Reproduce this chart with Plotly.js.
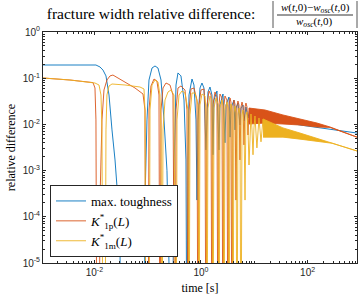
<!DOCTYPE html>
<html><head><meta charset="utf-8">
<script src="https://cdn.plot.ly/plotly-3.0.1.min.js"></script>
<style>html,body{margin:0;padding:0;background:#fff}#chart{width:360px;height:302px}</style>
</head><body><div id="chart"></div>
<script>
// ---- data ----
const blueT = [0.00109,0.0107,0.01274,0.0145,0.0165,0.0188,0.0214,0.0244,0.0277,0.0302,0.0315,0.0853,0.0890,0.0970,0.1058,0.1205,0.1371,0.156,0.178,0.2023,0.230,0.2857,0.311,0.325,0.340,0.370,0.421,0.480,0.523,0.546,0.570,0.596,0.678,0.739,0.806,0.841,0.879,0.958,1.044,1.138,1.241,1.353,1.475,1.608,1.679,1.753,1.995,2.176,2.272,2.587,2.818,2.944,3.35,3.50,3.65,4.16,4.35,4.54,4.94,5.39,5.63,6.14,6.41,6.98,7.62,8.30,9.06,9.87,10.76,12.8,15.9,19.7,30.4,72.0,171,405,845];
const blueV = [0.193,0.193,0.175,0.150,0.112,0.0433,0.0076,0.0017,0.00023,3.1e-5,1e-8,1e-8,0.00023,0.0125,0.0914,0.166,0.184,0.166,0.0914,0.0125,0.0010,1e-8,0.001,0.0205,0.0713,0.130,0.112,0.0337,0.0017,1e-8,0.0017,0.0433,0.096,0.0713,0.0125,0.00023,0.0125,0.0614,0.0787,0.0614,0.0028,0.0503,0.0645,0.0433,0.0022,0.0337,0.0528,0.0028,0.0263,0.0455,0.0040,0.0263,0.0392,0.0053,0.0226,0.0337,0.0076,0.0226,0.029,0.0097,0.0226,0.0263,0.0119,0.0238,0.0138,0.0226,0.0145,0.0205,0.0152,0.0177,0.0145,0.0138,0.0119,0.0097,0.0084,0.0072,0.0065];

const redT = [0.00109,0.00348,0.00942,0.01026,0.0107,0.01119,0.0122,0.01274,0.01389,0.01514,0.0172,0.01963,0.0223,0.0277,0.0375,0.0578,0.0817,0.0890,0.0929,0.1014,0.1058,0.1153,0.1313,0.149,0.163,0.170,0.178,0.1937,0.2206,0.262,0.2983,0.325,0.340,0.370,0.421,0.501,0.546,0.570,0.596,0.649,0.739,0.841,0.879,0.917,1.0,1.138,1.189,1.241,1.296,1.413,1.541,1.608,1.679,1.831,1.995,2.084,2.176,2.272,2.477,2.587,2.70,2.818,3.07,3.21,3.35,3.50,3.65,3.82,3.98,4.16,4.35,4.54,4.73,4.94,5.16,5.39,5.63,5.88,6.14,6.41,6.70,6.98,7.30,7.62,7.96];
const redV = [0.101,0.0914,0.0803,0.0614,0.0125,1e-8,1e-8,0.00023,0.0125,0.0556,0.0914,0.112,0.117,0.101,0.0828,0.0614,0.0455,0.0205,1e-8,1e-8,0.0205,0.0678,0.096,0.087,0.0433,1e-8,0.0205,0.0614,0.0787,0.0713,0.0433,1e-8,0.0205,0.0614,0.0678,0.0556,0.0205,1e-8,0.0205,0.0584,0.0614,0.0337,1e-8,0.0263,0.0556,0.0584,0.0263,1e-8,0.0263,0.0528,0.0433,1e-8,0.0263,0.0503,0.0392,1e-8,0.0263,0.0455,0.0373,1e-8,0.0263,0.0412,0.0337,1e-8,0.025,0.0373,0.0305,1e-8,0.025,0.0337,0.0276,0.00023,0.025,0.0321,0.0263,0.0017,0.0238,0.0305,0.025,0.0036,0.0238,0.029,0.0238,0.0059,0.0226];
const redBandT  = [7.96,15.9,34.5,72.0,150,263,845];
const redBandHi = [0.0226,0.0205,0.016,0.0131,0.0107,0.0088,0.0053];
const redBandLo = [0.0102,0.0107,0.0102,0.0097,0.0088,0.0086,0.0053];

const yelT = [0.00109,0.00348,0.01026,0.0122,0.0133,0.01389,0.0145,0.0158,0.0165,0.0172,0.0188,0.0214,0.0375,0.0717,0.0853,0.0890,0.0929,0.1058,0.1105,0.1205,0.1371,0.156,0.170,0.178,0.1855,0.1937,0.2113,0.2404,0.2735,0.311,0.340,0.355,0.387,0.440,0.501,0.570,0.596,0.622,0.678,0.772,0.879,0.917,0.958,1.044,1.189,1.241,1.296,1.353,1.475,1.608,1.679,1.753,1.911,2.084,2.176,2.272,2.477,2.587,2.70,2.818,3.07,3.21,3.35,3.50,3.65,3.82,3.98,4.16,4.35,4.54,4.73,4.94,5.16,5.39,5.63,5.88,6.14,6.41,6.70,6.98,7.30,7.62,7.96,8.30,8.67,9.06,9.46,9.87,10.3,11.2,12.25,13.36,14.6,15.9];
const yelV = [0.101,0.0914,0.0787,0.0713,0.0433,0.0076,1e-8,1e-8,0.0076,0.0433,0.0678,0.0749,0.0713,0.0645,0.0584,0.0205,1e-8,1e-8,0.0205,0.0713,0.0914,0.0828,0.0433,0.0076,1e-8,0.0076,0.0337,0.0503,0.0556,0.0433,1e-8,0.0125,0.0433,0.0528,0.0478,0.0205,1e-8,0.016,0.0478,0.0478,0.0263,1e-8,0.0263,0.0455,0.0412,0.0205,1e-8,0.0226,0.0412,0.0337,1e-8,0.0226,0.0373,0.0276,1e-8,0.0226,0.0337,0.025,1e-8,0.0205,0.0305,0.0226,1e-8,0.0185,0.0276,0.0205,1e-8,0.0177,0.025,0.0185,1e-8,0.0168,0.0226,0.0168,1e-8,0.016,0.0205,0.0097,0.00023,0.016,0.0185,0.0076,0.00132,0.0097,0.0168,0.0076,0.0022,0.0084,0.0152,0.0031,0.0138,0.0042,0.0131,0.0053];
const yelBandT  = [14.6,34.5,72.0,138,289,845];
const yelBandHi = [0.0131,0.0084,0.0065,0.0051,0.0040,0.00266];
const yelBandLo = [0.0053,0.0053,0.0048,0.0044,0.0039,0.00266];

const seriesNames = ['max. toughness','<i>K</i><sup>*</sup><sub>1p</sub>(<i>L</i>)','<i>K</i><sup>*</sup><sub>1m</sub>(<i>L</i>)'];
const xTickVals = [0.01,1,100];
const xTickText = ['10<sup>-2</sup>','10<sup>0</sup>','10<sup>2</sup>'];
const yTickVals = [1,0.1,0.01,0.001,0.0001,0.00001];
const yTickText = ['10<sup>0</sup>','10<sup>-1</sup>','10<sup>-2</sup>','10<sup>-3</sup>','10<sup>-4</sup>','10<sup>-5</sup>'];

// ---- layout helpers ----
const W=360,H=302,L=43,R=3,T=32,B=39;
const pw=W-L-R, ph=H-T-B;
const px=x=>(x-L)/pw, py=y=>(H-B-y)/ph;
const C1='#0072BD', C2='#D95319', C3='#EDB120', AX='#262626';
const minorX=[], minorY=[];
for(let e=-3;e<=2;e++) for(let m=1;m<=9;m++) minorX.push(m*Math.pow(10,e));
for(let e=-5;e<=-1;e++) for(let m=1;m<=9;m++) minorY.push(m*Math.pow(10,e));

const ln=(c)=>({color:c,width:0.9});
const data=[
 {x:blueT,y:blueV,mode:'lines',line:ln(C1),name:seriesNames[0]},
 {x:redT,y:redV,mode:'lines',line:ln(C2),name:seriesNames[1]},
 {x:redBandT,y:redBandHi,mode:'lines',line:ln(C2),showlegend:false},
 {x:redBandT,y:redBandLo,mode:'lines',line:ln(C2),fill:'tonexty',fillcolor:C2,showlegend:false},
 {x:yelT,y:yelV,mode:'lines',line:ln(C3),name:seriesNames[2]},
 {x:yelBandT,y:yelBandHi,mode:'lines',line:ln(C3),showlegend:false},
 {x:yelBandT,y:yelBandLo,mode:'lines',line:ln(C3),fill:'tonexty',fillcolor:C3,showlegend:false}
];
const tickFont={family:'Liberation Sans, Arial',size:10,color:AX};
const serif='Liberation Serif, Times New Roman, serif';
const layout={
 width:W,height:H,margin:{l:L,r:R,t:T,b:B},
 paper_bgcolor:'#fff',plot_bgcolor:'#fff',
 showlegend:true,
 title:{text:'fracture width relative difference:',font:{family:serif,size:15.5,color:'#000'},x:151/W,xanchor:'center',xref:'container',y:1-14/H,yanchor:'middle',yref:'container'},
 xaxis:{type:'log',range:[-2.964,2.927],tickmode:'array',tickvals:xTickVals,ticktext:xTickText,
   ticks:'inside',ticklen:3,tickcolor:AX,mirror:'allticks',showline:true,linecolor:AX,linewidth:1,
   showgrid:false,zeroline:false,tickfont:tickFont,
   minor:{tickmode:'array',tickvals:minorX,ticks:'inside',ticklen:2,tickcolor:AX},
   title:{text:'time [s]',font:{family:serif,size:12,color:'#000'},standoff:6}},
 yaxis:{type:'log',range:[-5,0],tickmode:'array',tickvals:yTickVals,ticktext:yTickText,
   ticks:'inside',ticklen:3,tickcolor:AX,mirror:'allticks',showline:true,linecolor:AX,linewidth:1,
   showgrid:false,zeroline:false,tickfont:tickFont,
   minor:{tickmode:'array',tickvals:minorY,ticks:'inside',ticklen:2,tickcolor:AX},
   title:{text:'relative difference',font:{family:serif,size:12,color:'#000'},standoff:4}},
 legend:{x:px(50),y:py(257),xanchor:'left',yanchor:'bottom',bgcolor:'#fff',bordercolor:AX,borderwidth:1,
   traceorder:'normal',font:{family:serif,size:13,color:'#000'},itemwidth:30,tracegroupgap:0},
 annotations:[
  {xref:'paper',yref:'paper',x:px(315),y:py(8),text:'<i>w</i>(<i>t</i>,0)−<i>w</i><sub><i>osc</i></sub>(<i>t</i>,0)',showarrow:false,font:{family:serif,size:11,color:'#000'},xanchor:'center',yanchor:'middle'},
  {xref:'paper',yref:'paper',x:px(314),y:py(21.5),text:'<i>w</i><sub><i>osc</i></sub>(<i>t</i>,0)',showarrow:false,font:{family:serif,size:11,color:'#000'},xanchor:'center',yanchor:'middle'}
 ],
 shapes:[
  {type:'line',xref:'paper',yref:'paper',x0:px(277),x1:px(353),y0:py(15),y1:py(15),line:{color:'#000',width:0.8}},
  {type:'line',xref:'paper',yref:'paper',x0:px(273),x1:px(273),y0:py(1),y1:py(28),line:{color:'#555',width:1}},
  {type:'line',xref:'paper',yref:'paper',x0:px(357),x1:px(357),y0:py(1),y1:py(28),line:{color:'#555',width:1}}
 ]
};
Plotly.newPlot('chart',data,layout,{staticPlot:true,displayModeBar:false});
</script></body></html>
